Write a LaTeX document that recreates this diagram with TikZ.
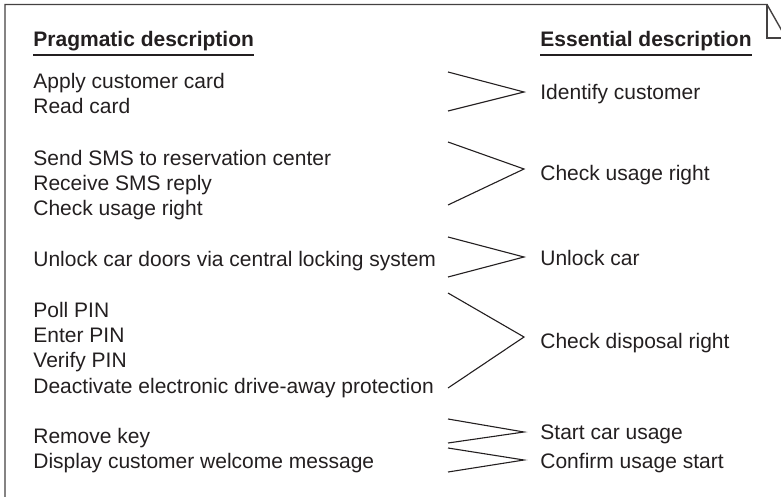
\documentclass[tikz,border=0pt]{standalone}
\usepackage{fontspec}
\setmainfont{Liberation Sans}
\definecolor{ink}{HTML}{231F20}
\begin{document}
\begin{tikzpicture}[x=0.5pt,y=-0.5pt,
  txt/.style={anchor=base west,inner sep=0pt,align=left,text=ink,
    font=\fontsize{10.5}{12.65}\selectfont},
  head/.style={txt,font=\fontsize{10.5}{12.65}\selectfont\bfseries},
  fork/.style={draw=ink,line width=0.55pt}]
  \useasboundingbox (0,0) rectangle (781,497);
  \clip (0,0) rectangle (781,497);

  % sheet with folded corner
  \draw[draw=ink!85,line width=0.7pt] (5,520) -- (5,4.5) -- (767,4.5) -- (786,38) -- (786,520);
  \draw[draw=ink!85,line width=0.7pt] (767,4.5) -- (767,38) -- (786,38);

  % headings
  \node[head] (prag) at (33,47) {Pragmatic description};
  \node[head] (ess) at (540,47) {Essential description};
  \draw[fork,line width=0.7pt] ([yshift=-4pt]prag.base west) -- ([yshift=-4pt]prag.base east);
  \draw[fork,line width=0.7pt] ([yshift=-4pt]ess.base west) -- ([yshift=-4pt]ess.base east);

  % pragmatic steps (base = last line)
  \node[txt] (card) at (33,114) {Apply customer card\\Read card};
  \node[txt] (sms) at (33,216) {Send SMS to reservation center\\Receive SMS reply\\Check usage right};
  \node[txt] (doors) at (33,266) {Unlock car doors via central locking system};
  \node[txt] (pin) at (33,393) {Poll PIN\\Enter PIN\\Verify PIN\\Deactivate electronic drive-away protection};
  \node[txt] (key) at (33,443) {Remove key};
  \node[txt] (welcome) at (33,468) {Display customer welcome message};

  % essential steps
  \node[txt] (ident) at (540,100) {Identify customer};
  \node[txt] (usage) at (540,181) {Check usage right};
  \node[txt] (unlock) at (540,265) {Unlock car};
  \node[txt] (dispo) at (540,348) {Check disposal right};
  \node[txt] (start) at (540,439) {Start car usage};
  \node[txt] (confirm) at (540,468) {Confirm usage start};

  % brackets joining both sides
  \foreach \i/\top/\tip/\bot in {1/72/92/111,2/142/169/205,3/237/257/277,
                                 4/293/337/388,5/419/432/443,6/448/460/472}{
    \coordinate (open\i) at (448,\top);
    \coordinate (tip\i) at (524,\tip);
    \coordinate (shut\i) at (448,\bot);
    \draw[fork] (open\i) -- (tip\i) -- (shut\i);
  }
\end{tikzpicture}
\end{document}
